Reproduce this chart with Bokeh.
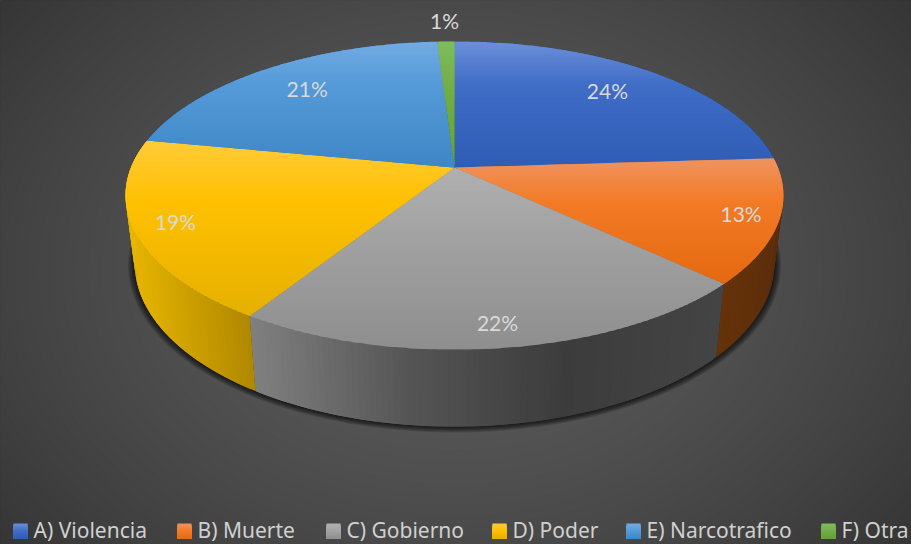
import numpy as np
from bokeh.plotting import figure
from bokeh.models import Range1d
from bokeh.core.properties import value
from bokeh.embed import file_html
from bokeh.resources import INLINE

# ---- data ----
categories = ["A) Violencia", "B) Muerte", "C) Gobierno", "D) Poder", "E) Narcotrafico", "F) Otra"]
shares = [24, 13, 22, 19, 21, 1]

# ---- styles ----
top_stops = [
    ("#6C8FDA", "#3F6DC6", "#2F5DB5"),
    ("#EF9360", "#F37B26", "#E4690F"),
    ("#B0B0B0", "#A3A3A3", "#8E8E8E"),
    ("#FFCB38", "#FFC000", "#E5B000"),
    ("#72ABE2", "#549AD8", "#3F86C6"),
    ("#80BC60", "#72AE48", "#64A238"),
]
side_stops = [
    ("#1D3A70", "#1D3A70"),
    ("#653209", "#5C2E0C"),
    ("#808080", "#555555", "#3C3C3C", "#444444"),
    ("#E8B600", "#B08800"),
    ("#2A5C90", "#2A5C90"),
    ("#4A7A30", "#4A7A30"),
]
label_radius = [0.76, 0.89, 0.89, 0.88, 0.76, 1.18]
legend_x = [13, 177, 326, 492, 626, 821]

W, H = 911, 544
p = figure(width=W, height=H, x_range=Range1d(0, W), y_range=Range1d(H, 0),
           output_backend="svg", toolbar_location=None,
           x_axis_location=None, y_axis_location=None, min_border=0,
           background_fill_color="#2E2E2E", border_fill_color="#2E2E2E", outline_line_color=None)
p.grid.visible = False

# ---- backdrop: soft radial gradient as nested ellipses ----
ring = np.linspace(0, 2 * np.pi, 120)
for level in range(46, 92):
    d = ((92 - level) / 50) ** (1 / 1.5)
    shade = "#%02x%02x%02x" % (level, level, level)
    p.patch(455 + 700 * d * np.cos(ring), 272 + 520 * d * np.sin(ring), fill_color=shade, line_color=None)

# ---- perspective projection of the disc ----
CX, CY, A, B, K = 454.0, 167.0, 149.0, 323.5, 0.1818

def top_pt(theta, r=1.0):
    u, v = r * np.sin(theta), r * np.cos(theta)
    den = 1 + K * v
    return CX + B * u / den, CY - A * v / den

def bottom_of(x, y):
    return CX + 0.972 * (x - CX), 426 + 1.06 * (y - 349)

def rgb(h):
    return np.array([int(h[i:i + 2], 16) for i in (1, 3, 5)], float)

def mix(stops, t):
    t = min(max(t, 0), 1) * (len(stops) - 1)
    i = min(int(t), len(stops) - 2)
    c = rgb(stops[i]) * (1 - (t - i)) + rgb(stops[i + 1]) * (t - i)
    return "#%02x%02x%02x" % tuple(int(round(k)) for k in c)

def ramp(t):
    # the light tint gives way to the base colour within the first third
    return t / 0.35 * 0.5 if t < 0.35 else 0.5 + 0.5 * (t - 0.35) / 0.65

def clip_band(pts, y0, y1):
    def clip(poly, keep, cross):
        out = []
        for i, a in enumerate(poly):
            b = poly[(i + 1) % len(poly)]
            if keep(a):
                out.append(a)
            if keep(a) != keep(b):
                out.append(cross(a, b))
        return out
    def at(level):
        return lambda a, b: (a[0] + (b[0] - a[0]) * (level - a[1]) / (b[1] - a[1]), level)
    poly = clip(pts, lambda q: q[1] >= y0, at(y0))
    if poly:
        poly = clip(poly, lambda q: q[1] <= y1, at(y1))
    return poly

total = float(sum(shares))
edges = np.cumsum([0] + shares) / total * 2 * np.pi

# ---- shadow under the cake ----
circle = np.linspace(0, 2 * np.pi, 240)
ox, oy = top_pt(circle)
bx, by = bottom_of(ox, oy)
for s in range(1, 7):
    grow = 1 + s * 0.0035
    p.patch(CX + (bx - CX) * grow, 263 + (by - 263) * grow + s * 0.4,
            fill_color="#000000", fill_alpha=0.15, line_color=None)

# ---- side walls ----
sx, sy, sc = [], [], []
for i in range(len(shares)):
    th = np.linspace(edges[i], edges[i + 1], max(3, int(shares[i] * 4) + 1))
    tx, ty = top_pt(th)
    lo, hi = tx.min(), tx.max()
    ux, uy = bottom_of(tx, ty)
    for j in range(len(th) - 1):
        k = min(j + 2, len(th) - 1)
        sx.append([tx[j], tx[k], ux[k], ux[j]])
        sy.append([ty[j], ty[k], uy[k], uy[j]])
        sc.append(mix(side_stops[i], ((tx[j] + tx[j + 1]) / 2 - lo) / (hi - lo)))
p.patches(sx, sy, fill_color=sc, line_color=None)

# ---- top face ----
fx, fy, fc = [], [], []
for i in range(len(shares)):
    th = np.linspace(edges[i], edges[i + 1], max(4, int(shares[i] * 5) + 1))
    tx, ty = top_pt(th)
    pts = [(CX, CY)] + list(zip(tx, ty))
    ymin = min(q[1] for q in pts)
    ymax = max(q[1] for q in pts)
    levels = np.arange(ymin, ymax + 2, 2)
    for y0, y1 in zip(levels[:-1], levels[1:]):
        band = clip_band(pts, y0, y1 + 1.5)
        if len(band) >= 3:
            fx.append([q[0] for q in band])
            fy.append([q[1] for q in band])
            fc.append(mix(top_stops[i], ramp(((y0 + y1) / 2 - ymin) / (ymax - ymin))))
p.patches(fx, fy, fill_color=fc, line_color=None)

# ---- percentage labels ----
mids = (edges[:-1] + edges[1:]) / 2
lx, ly = zip(*[top_pt(m, r) for m, r in zip(mids, label_radius)])
p.text(list(lx), [y - 2 for y in ly], text=[f"{round(v / total * 100)}%" for v in shares],
       text_font=value("Lato"), text_font_size="21px", text_color="#D9D9D9",
       text_align="center", text_baseline="middle")

# ---- legend ----
swatch_top, swatch_h, swatch_w = 523, 15, 14
lqx0, lqx1, lqy0, lqy1, lqc = [], [], [], [], []
for i, x0 in enumerate(legend_x):
    for r in range(swatch_h):
        lqx0.append(x0); lqx1.append(x0 + swatch_w)
        lqy0.append(swatch_top + r); lqy1.append(swatch_top + swatch_h)
        lqc.append(mix(top_stops[i], (r + 0.5) / swatch_h))
p.quad(left=lqx0, right=lqx1, top=lqy0, bottom=lqy1, fill_color=lqc, line_color=None)
p.text([x + 20 for x in legend_x], [529.5] * len(categories), text=categories,
       text_font=value("Noto Sans"), text_font_size="21px", text_color="#D0D0D0",
       text_align="left", text_baseline="middle")

open("out.html", "w").write(file_html(p, INLINE))
